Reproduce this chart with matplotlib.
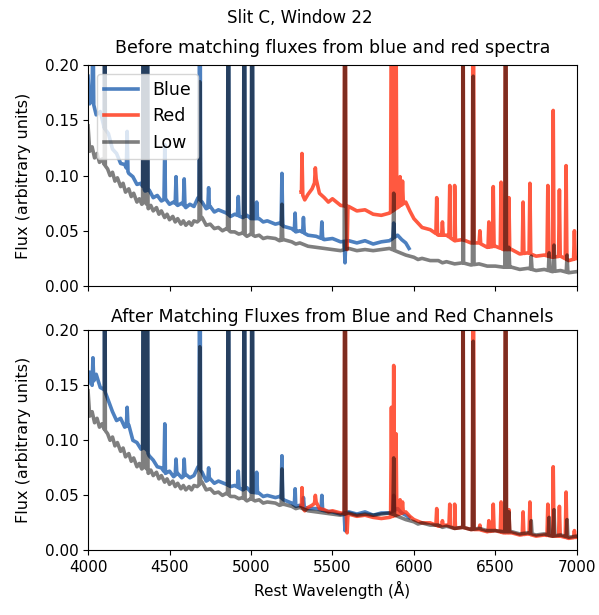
import matplotlib
matplotlib.use('Agg')
import matplotlib.pyplot as plt
import numpy as np

plt.rcParams['font.size'] = 11

# ---- Low resolution spectrum (same in both panels) ----
low_wl = [4000, 4010, 4025, 4040, 4055, 4070, 4085, 4100, 4120, 4135, 4150, 4165, 4180, 4200,
          4215, 4230, 4250, 4265, 4280, 4300, 4315, 4330, 4350, 4370, 4385, 4400, 4420, 4435,
          4450, 4470, 4485, 4500, 4520, 4535, 4550, 4570, 4585, 4600, 4620, 4635, 4650, 4670,
          4700, 4725, 4750, 4775, 4800, 4825, 4850, 4875, 4900, 4925, 4950, 4975, 5000, 5025,
          5050, 5075, 5100, 5150, 5175, 5200, 5250, 5275, 5300, 5350, 5400, 5450, 5500, 5550,
          5600, 5650, 5700, 5750, 5800, 5850, 5900, 5950, 6000, 6025, 6050, 6100, 6150, 6175,
          6200, 6250, 6300, 6350, 6400, 6450, 6500, 6550, 6600, 6650, 6700, 6750, 6800, 6850,
          6900, 6950, 7000]
low_flux = [0.145, 0.122, 0.126, 0.116, 0.120, 0.112, 0.115, 0.110, 0.106, 0.100, 0.103, 0.095,
            0.098, 0.090, 0.093, 0.085, 0.088, 0.081, 0.084, 0.076, 0.079, 0.074, 0.077, 0.070,
            0.073, 0.068, 0.071, 0.065, 0.068, 0.062, 0.065, 0.060, 0.063, 0.058, 0.061, 0.056,
            0.059, 0.055, 0.058, 0.055, 0.059, 0.058, 0.062, 0.055, 0.056, 0.052, 0.053, 0.050,
            0.052, 0.049, 0.049, 0.047, 0.048, 0.045, 0.047, 0.045, 0.046, 0.043, 0.044, 0.043,
            0.041, 0.042, 0.040, 0.038, 0.039, 0.036, 0.035, 0.034, 0.033, 0.032, 0.034, 0.032,
            0.033, 0.032, 0.033, 0.034, 0.031, 0.028, 0.026, 0.024, 0.025, 0.023, 0.023, 0.021,
            0.022, 0.020, 0.021, 0.019, 0.020, 0.018, 0.018, 0.017, 0.017, 0.015, 0.016, 0.014,
            0.015, 0.013, 0.014, 0.012, 0.013]
low_lines = [4101, 4340, 4363, 4686, 4861, 4959, 5007, 5190, 5577, 5876, 6300, 6364, 6563,
             6583, 6720, 6830, 6860, 6940]
low_peaks = [0.40, 0.40, 0.40, 0.185, 0.40, 0.40, 0.40, 0.074, 0.40, 0.084, 0.40, 0.19, 0.40,
             0.035, 0.027, 0.030, 0.037, 0.028]

# ---- Blue channel ----
blue_wl = [4000, 4010, 4025, 4050, 4075, 4100, 4125, 4150, 4175, 4200, 4225, 4250, 4275, 4300,
           4325, 4350, 4375, 4400, 4425, 4450, 4475, 4500, 4525, 4550, 4575, 4600, 4625, 4650,
           4675, 4700, 4725, 4750, 4775, 4800, 4850, 4875, 4900, 4950, 4975, 5000, 5050, 5075,
           5100, 5150, 5175, 5200, 5250, 5275, 5300, 5350, 5400, 5450, 5500, 5550, 5600, 5650,
           5700, 5750, 5800, 5850, 5900, 5925, 5950, 5970]
blue_before = [0.190, 0.165, 0.170, 0.155, 0.158, 0.143, 0.138, 0.124, 0.120, 0.111, 0.110,
               0.102, 0.099, 0.092, 0.093, 0.086, 0.087, 0.080, 0.082, 0.077, 0.079, 0.074,
               0.076, 0.073, 0.075, 0.071, 0.074, 0.072, 0.080, 0.076, 0.070, 0.072, 0.067,
               0.069, 0.066, 0.063, 0.065, 0.062, 0.064, 0.061, 0.061, 0.058, 0.059, 0.056,
               0.057, 0.054, 0.052, 0.049, 0.050, 0.046, 0.045, 0.042, 0.043, 0.040, 0.041,
               0.039, 0.041, 0.038, 0.040, 0.041, 0.046, 0.042, 0.039, 0.034]
blue_after = [0.152, 0.162, 0.150, 0.160, 0.148, 0.146, 0.136, 0.126, 0.118, 0.120, 0.112,
              0.114, 0.100, 0.098, 0.092, 0.094, 0.086, 0.082, 0.076, 0.075, 0.070, 0.072,
              0.067, 0.070, 0.066, 0.069, 0.066, 0.068, 0.076, 0.071, 0.063, 0.065, 0.061,
              0.063, 0.060, 0.058, 0.059, 0.055, 0.057, 0.053, 0.052, 0.049, 0.050, 0.048,
              0.049, 0.046, 0.043, 0.040, 0.041, 0.038, 0.038, 0.036, 0.035, 0.033, 0.035,
              0.033, 0.035, 0.032, 0.034, 0.034, 0.038, 0.034, 0.032, 0.030]
blue_lines = [4030, 4101, 4240, 4340, 4363, 4471, 4540, 4590, 4686, 4740, 4861, 4922, 4959,
              5007, 5035, 5190, 5271, 5322, 5435, 5577, 5876]
blue_peaks_before = [0.25, 0.40, 0.140, 0.40, 0.40, 0.128, 0.099, 0.097, 0.40, 0.089, 0.40,
                     0.081, 0.40, 0.40, 0.076, 0.102, 0.066, 0.062, 0.058, 0.021, 0.057]
blue_peaks_after = [0.175, 0.40, 0.130, 0.40, 0.40, 0.115, 0.083, 0.083, 0.40, 0.075, 0.40,
                    0.072, 0.40, 0.40, 0.071, 0.086, 0.056, 0.048, 0.050, 0.018, 0.050]

# ---- Red channel ----
red_wl = [5310, 5330, 5350, 5375, 5400, 5420, 5450, 5475, 5500, 5550, 5600, 5650, 5700, 5750,
          5800, 5850, 5950, 5975, 6000, 6050, 6100, 6150, 6200, 6250, 6300, 6350, 6400, 6450,
          6500, 6550, 6600, 6650, 6700, 6750, 6800, 6850, 6900, 6950, 7000]
red_before = [0.085, 0.078, 0.083, 0.088, 0.097, 0.084, 0.080, 0.076, 0.079, 0.073, 0.072,
              0.068, 0.069, 0.065, 0.064, 0.066, 0.076, 0.068, 0.061, 0.053, 0.051, 0.046,
              0.046, 0.041, 0.042, 0.039, 0.039, 0.035, 0.036, 0.033, 0.033, 0.029, 0.030,
              0.027, 0.028, 0.026, 0.027, 0.023, 0.025]
red_after = [0.040, 0.036, 0.039, 0.041, 0.044, 0.038, 0.037, 0.035, 0.036, 0.034, 0.033,
             0.031, 0.032, 0.030, 0.029, 0.030, 0.035, 0.031, 0.028, 0.025, 0.025, 0.022,
             0.023, 0.020, 0.021, 0.019, 0.019, 0.017, 0.018, 0.016, 0.016, 0.014, 0.015,
             0.013, 0.014, 0.013, 0.013, 0.011, 0.012]
red_lines = [5313, 5395, 5577, 5590, 5862, 5876, 5890, 5915, 5930, 6140, 6175, 6220, 6250,
             6300, 6364, 6405, 6460, 6487, 6535, 6563, 6583, 6670, 6712, 6822, 6855, 6893,
             6934, 6985]
red_peaks_before = [0.120, 0.107, 0.40, 0.033, 0.30, 0.40, 0.25, 0.099, 0.095, 0.080, 0.058,
                    0.091, 0.091, 0.40, 0.40, 0.050, 0.058, 0.090, 0.094, 0.40, 0.080, 0.076,
                    0.093, 0.091, 0.159, 0.087, 0.109, 0.050]
red_peaks_after = [0.057, 0.050, 0.40, 0.016, 0.130, 0.168, 0.106, 0.046, 0.044, 0.038, 0.027,
                   0.042, 0.042, 0.40, 0.40, 0.023, 0.027, 0.042, 0.044, 0.40, 0.037, 0.035,
                   0.044, 0.042, 0.076, 0.040, 0.053, 0.018]


def build_spectrum(wl, flux, lines, peaks, half=5):
    # continuum points plus a narrow spike for each emission line
    wl = np.array(wl, dtype=float)
    flux = np.array(flux, dtype=float)
    x = list(wl)
    y = list(flux)
    for lam, pk in zip(lines, peaks):
        for xx in (lam - half, lam + half):
            x.append(xx)
            y.append(np.interp(xx, wl, flux))
        x.append(lam)
        y.append(pk)
    order = np.argsort(x, kind='stable')
    return np.array(x)[order], np.array(y)[order]


fig = plt.figure(figsize=(5.99, 6.15), dpi=100)
ax1 = fig.add_axes([0.147, 0.535, 0.816, 0.359])
ax2 = fig.add_axes([0.147, 0.105, 0.816, 0.358], sharex=ax1)

blue_col = '#2060b0'
red_col = '#ff3010'
lw = 2.6

panels = [(ax1, blue_before, blue_peaks_before, red_before, red_peaks_before,
           'Before matching fluxes from blue and red spectra', 9),
          (ax2, blue_after, blue_peaks_after, red_after, red_peaks_after,
           'After Matching Fluxes from Blue and Red Channels', 6)]

for ax, bflux, bpk, rflux, rpk, title, pad in panels:
    bx, by = build_spectrum(blue_wl, bflux, blue_lines, bpk)
    rx, ry = build_spectrum(red_wl, rflux, red_lines, rpk)
    lx, ly = build_spectrum(low_wl, low_flux, low_lines, low_peaks)
    ax.plot(bx, by, color=blue_col, alpha=0.8, lw=lw, label='Blue')
    ax.plot(rx, ry, color=red_col, alpha=0.8, lw=lw, label='Red')
    ax.plot(lx, ly, color='k', alpha=0.5, lw=lw, label='Low')
    ax.set_xlim(4000, 7000)
    ax.set_ylim(0, 0.2)
    ax.set_yticks([0, 0.05, 0.10, 0.15, 0.20])
    ax.set_ylabel('Flux (arbitrary units)', fontsize=11.5, labelpad=10)
    ax.set_title(title, fontsize=12.5, pad=pad)

ax1.legend(loc='upper left', fontsize=12.5)
ax1.tick_params(labelbottom=False)
ax2.set_xticks([4000, 4500, 5000, 5500, 6000, 6500, 7000])
ax2.set_xlabel('Rest Wavelength (Å)')
fig.suptitle('Slit C, Window 22', fontsize=12, y=0.985)

fig.savefig('out.png', dpi=100)
